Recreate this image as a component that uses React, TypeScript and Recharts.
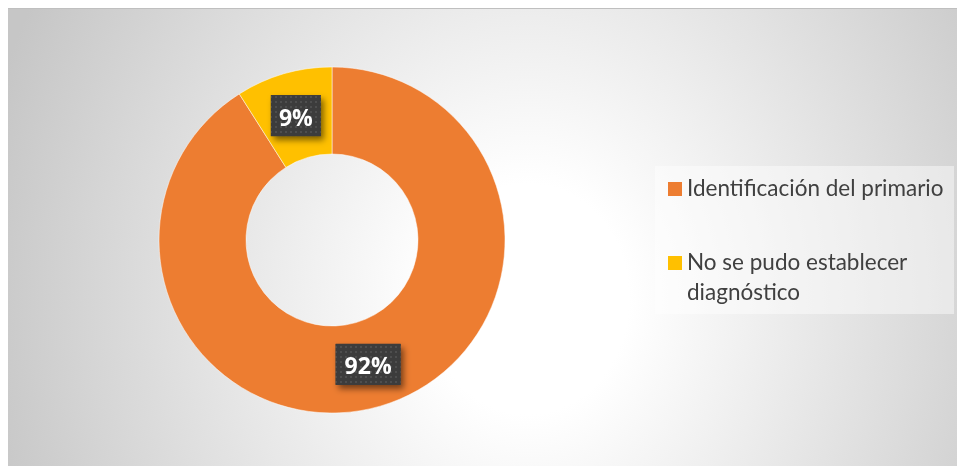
import React from 'react';
import { PieChart, Pie, Cell, Legend } from 'recharts';

const categories = ['Identificación del primario', 'No se pudo establecer diagnóstico'];
const values = [91, 9];
const percentLabels = ['92%', '9%'];
const colors = ['#ED7D31', '#FFC000'];

const data = categories.map((name, i) => ({ name, value: values[i] }));

const RAD = Math.PI / 180;

const renderLabel = (props: any) => {
  const { cx, cy, midAngle, innerRadius, outerRadius, index } = props;
  const r = (innerRadius + outerRadius) / 2;
  const x = cx + r * Math.cos(-midAngle * RAD);
  const y = cy + r * Math.sin(-midAngle * RAD);
  const text = percentLabels[index];
  const w = 20 + 15 * text.length;
  const h = 41;
  return (
    <g key={`lbl-${index}`}>
      {index === 0 && (
        <defs>
          <pattern id="dotsPat" x="0" y="0" width="5" height="5" patternUnits="userSpaceOnUse">
            <rect x="0" y="0" width="5" height="5" fill="#3c3c3c" />
            <rect x="2" y="2" width="2" height="2" fill="#4e4e4e" />
          </pattern>
          <filter id="lblShadow" x="-30%" y="-30%" width="160%" height="160%">
            <feDropShadow dx="3" dy="4" stdDeviation="3" floodColor="#000" floodOpacity="0.5" />
          </filter>
        </defs>
      )}
      <rect x={x - w / 2} y={y - h / 2} width={w} height={h} fill="#3c3c3c" filter="url(#lblShadow)" />
      <rect x={x - w / 2} y={y - h / 2} width={w} height={h} fill="url(#dotsPat)" />
      <text
        x={x}
        y={y + 1}
        textAnchor="middle"
        dominantBaseline="central"
        fill="#ffffff"
        fontSize={23}
        fontWeight={700}
        fontFamily="'Open Sans', sans-serif"
      >
        {text}
      </text>
    </g>
  );
};

const renderLegend = () => (
  <div
    style={{
      width: '100%',
      height: '100%',
      boxSizing: 'border-box',
      padding: '7px 0 0 13px',
      fontFamily: "Lato, 'Noto Sans', sans-serif",
      fontSize: 22.5,
      color: '#404040',
      lineHeight: '30px',
    }}
  >
    {categories.map((c, i) => (
      <div key={c} style={{ display: 'flex', alignItems: 'flex-start', marginBottom: i === 0 ? 44 : 0 }}>
        <span
          style={{
            display: 'inline-block',
            width: 14,
            height: 14,
            background: colors[i],
            marginTop: 9,
            marginRight: 5,
            flex: '0 0 auto',
          }}
        />
        <span style={{ width: 266 }}>{c}</span>
      </div>
    ))}
  </div>
);

export default function App() {
  return (
    <div
      style={{
        position: 'fixed',
        left: 8,
        top: 8,
        width: 960,
        height: 470,
        borderTop: '1px solid #bfbfbf',
        boxSizing: 'border-box',
        background:
          'radial-gradient(ellipse 560px 640px at 520px 290px, #ffffff 0%, #ffffff 18%, #c6c6c6 100%)',
      }}
    >
      <PieChart width={960} height={469} margin={{ top: 0, right: 0, bottom: 0, left: 0 }}>
        <Pie
          data={data}
          dataKey="value"
          nameKey="name"
          cx={324}
          cy={231}
          innerRadius={86}
          outerRadius={173}
          startAngle={90}
          endAngle={-270}
          stroke="#ffffff"
          strokeWidth={0.5}
          label={renderLabel}
          labelLine={false}
          isAnimationActive={false}
        >
          {data.map((d, i) => (
            <Cell key={d.name} fill={colors[i]} />
          ))}
        </Pie>
        <Legend
          content={renderLegend}
          wrapperStyle={{
            position: 'absolute',
            left: 647,
            top: 157,
            width: 299,
            height: 148,
            background: 'rgba(255,255,255,0.45)',
          }}
        />
      </PieChart>
    </div>
  );
}
